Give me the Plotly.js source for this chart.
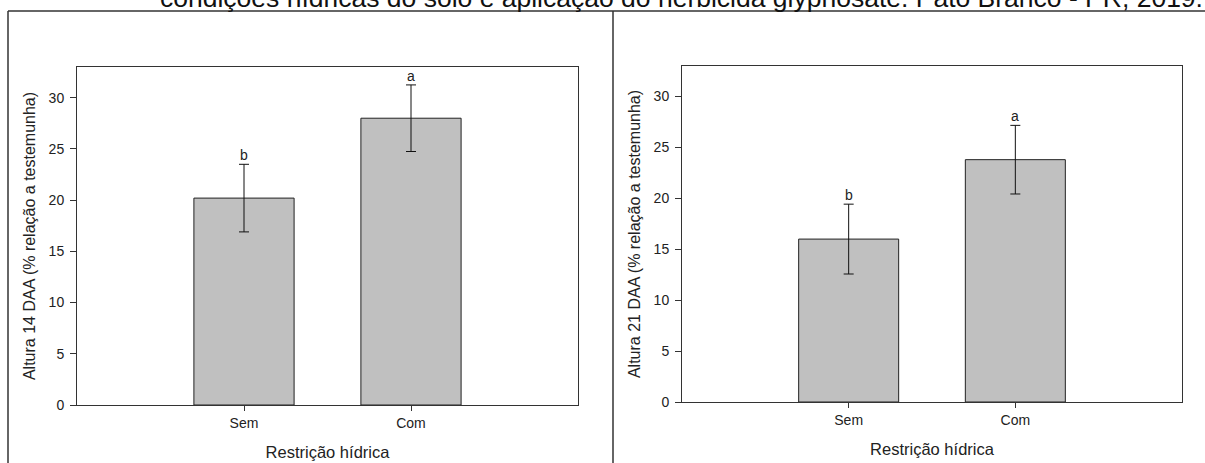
<!DOCTYPE html>
<html>
<head>
<meta charset="utf-8">
<script src="https://cdn.plot.ly/plotly-3.0.1.min.js"></script>
<style>html,body{margin:0;padding:0;background:#fff;}#chart{width:1205px;height:463px;}</style>
</head>
<body>
<div id="chart"></div>
<script>
// Data
var categories = ['Sem', 'Com'];
var altura14 = [20.2, 28.0];
var erro14 = [3.3, 3.25];
var letras14 = ['b', 'a'];
var altura21 = [16.0, 23.8];
var erro21 = [3.43, 3.37];
var letras21 = ['b', 'a'];
var yTicks = [0, 5, 10, 15, 20, 25, 30];
var titulo = 'condições hídricas do solo e aplicação do herbicida glyphosate. Pato Branco - PR, 2019.';

var W = 1205, H = 463;
function px(x) { return x / W; }
function py(y) { return 1 - y / H; }

var FONT = 'Liberation Sans, Arial, sans-serif';
var TXT = '#222';

function barTrace(vals, errs, xa, ya) {
  return {
    type: 'bar', x: categories, y: vals, xaxis: xa, yaxis: ya,
    width: 0.6,
    marker: { color: '#c0c0c0', line: { color: '#222', width: 1 } },
    error_y: { type: 'data', array: errs, visible: true, color: '#111', thickness: 1, width: 5 },
    hoverinfo: 'skip', showlegend: false
  };
}

var data = [barTrace(altura14, erro14, 'x', 'y'), barTrace(altura21, erro21, 'x2', 'y2')];

var annotations = [];
function addLetters(vals, errs, letters, xr, yr) {
  for (var i = 0; i < categories.length; i++) {
    annotations.push({
      x: categories[i], y: vals[i] + errs[i], xref: xr, yref: yr,
      text: letters[i], showarrow: false, yanchor: 'bottom', borderpad: 0,
      font: { family: FONT, size: 14, color: TXT }
    });
  }
}
addLetters(altura14, erro14, letras14, 'x', 'y');
addLetters(altura21, erro21, letras21, 'x2', 'y2');

annotations.push({
  x: px(1204), y: py(14), xref: 'paper', yref: 'paper', xanchor: 'right', yanchor: 'bottom',
  text: titulo, showarrow: false, borderpad: 0,
  font: { family: FONT, size: 26.5, color: '#111' }
});

function xAxis(domain) {
  return {
    domain: domain, type: 'category', range: [-1, 2],
    showline: true, mirror: true, linecolor: '#333', linewidth: 1,
    ticks: 'outside', ticklen: 5, tickcolor: '#333', tickwidth: 1,
    showgrid: false, zeroline: false,
    tickfont: { family: FONT, size: 14, color: TXT },
    title: { text: 'Restrição hídrica', font: { family: FONT, size: 16.5, color: TXT }, standoff: 16 }
  };
}
function yAxis(domain, anchor, title) {
  return {
    domain: domain, anchor: anchor, range: [0, 33], tickvals: yTicks,
    showline: true, mirror: true, linecolor: '#333', linewidth: 1,
    ticks: 'outside', ticklen: 6, tickcolor: '#333', tickwidth: 1,
    ticklabelstandoff: 3,
    showgrid: false, zeroline: false,
    tickfont: { family: FONT, size: 14, color: TXT },
    title: { text: title, font: { family: FONT, size: 16, color: TXT }, standoff: 9 }
  };
}

var lineStyle = { color: '#333', width: 1.5 };
var shapes = [
  { type: 'line', xref: 'paper', yref: 'paper', x0: px(8), x1: 1, y0: py(11), y1: py(11), line: lineStyle },
  { type: 'line', xref: 'paper', yref: 'paper', x0: px(8), x1: px(8), y0: py(11), y1: 0, line: lineStyle },
  { type: 'line', xref: 'paper', yref: 'paper', x0: px(613), x1: px(613), y0: py(11), y1: 0, line: lineStyle }
];

var layout = {
  width: W, height: H,
  margin: { l: 0, r: 0, t: 0, b: 0 },
  paper_bgcolor: '#fff', plot_bgcolor: '#fff',
  showlegend: false,
  xaxis: Object.assign(xAxis([px(77), px(578)]), { anchor: 'y' }),
  yaxis: yAxis([py(405), py(67)], 'x', 'Altura 14 DAA (% relação a testemunha)'),
  xaxis2: Object.assign(xAxis([px(682), px(1182)]), { anchor: 'y2' }),
  yaxis2: yAxis([py(402), py(66)], 'x2', 'Altura 21 DAA (% relação a testemunha)'),
  annotations: annotations,
  shapes: shapes
};

Plotly.newPlot('chart', data, layout, { displayModeBar: false, staticPlot: true });
</script>
</body>
</html>
